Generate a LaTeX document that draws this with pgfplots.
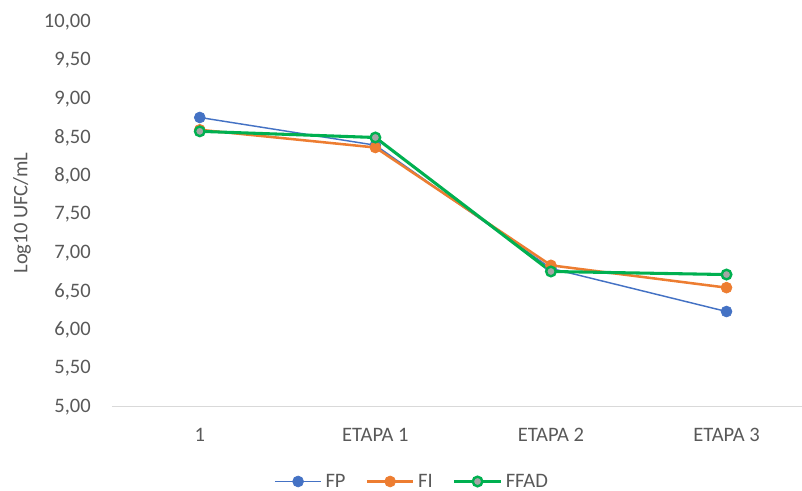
\documentclass[border=0pt]{standalone}
\usepackage{fontspec}
\setmainfont{Carlito}
\usepackage{pgfplots}
\pgfplotsset{compat=1.18}

\definecolor{cFP}{HTML}{4472C4}
\definecolor{cFI}{HTML}{ED7D31}
\definecolor{cFFAD}{HTML}{00B050}
\definecolor{cFill}{HTML}{A5A5A5}
\definecolor{txt}{HTML}{595959}
\definecolor{axisgray}{HTML}{D9D9D9}

\begin{document}
\begin{tikzpicture}[font=\fontsize{15.4}{18}\selectfont]
\useasboundingbox (-84pt,-63pt) rectangle (517.5pt,305.25pt);
\begin{axis}[
  at={(0pt,0pt)}, anchor=south west,
  scale only axis,
  width=517.5pt, height=288.75pt,
  xmin=-0.5, xmax=3.43,
  ymin=5, ymax=10,
  enlargelimits=false,
  clip=false,
  axis lines*=left,
  y axis line style={draw=none},
  x axis line style={draw=axisgray, line width=0.75pt},
  tick style={draw=none},
  xtick={0,1,2,3},
  xticklabels={1,ETAPA 1,ETAPA 2,ETAPA 3},
  ytick={5,5.5,...,10},
  /pgf/number format/.cd, fixed, fixed zerofill, precision=2, use comma, assume math mode=true,
  /pgfplots/.cd,
  yticklabel style={text=txt, anchor=east, inner sep=0pt, xshift=-15.75pt},
  xticklabel style={text=txt, anchor=base, inner sep=0pt, yshift=-26pt},
  legend style={
    at={(rel axis cs:0.4348,-0.1935)}, anchor=center,
    draw=none, fill=none, text=txt,
    inner sep=0pt,
    nodes={inner xsep=1.5pt, inner ysep=1.5pt},
    legend columns=-1,
    /tikz/every odd column/.append style={column sep=1pt},
    /tikz/every even column/.append style={column sep=13.5pt},
    legend cell align=left,
  },
  legend image code/.code={
    \draw[mark repeat=2, mark phase=2] plot coordinates {(0pt,0pt) (17.5pt,0pt) (35pt,0pt)};
  },
]
\addplot[cFP, line width=1.1pt, mark=*, mark size=4.1pt, mark options={fill=cFP, draw=cFP, line width=0.5pt}]
  coordinates {(0,8.76) (1,8.40) (2,6.80) (3,6.24)};
\addlegendentry{FP}
\addplot[cFI, line width=1.9pt, mark=*, mark size=4.1pt, mark options={fill=cFI, draw=cFI, line width=0.5pt}]
  coordinates {(0,8.60) (1,8.37) (2,6.84) (3,6.55)};
\addlegendentry{FI}
\addplot[cFFAD, line width=2.3pt, mark=*, mark size=3.6pt, mark options={fill=cFill, draw=cFFAD, line width=1.8pt}]
  coordinates {(0,8.58) (1,8.50) (2,6.76) (3,6.72)};
\addlegendentry{FFAD}
\end{axis}
\node[rotate=90, text=txt, anchor=center] at (-67.5pt,145.5pt) {Log10 UFC/mL};
\end{tikzpicture}
\end{document}
